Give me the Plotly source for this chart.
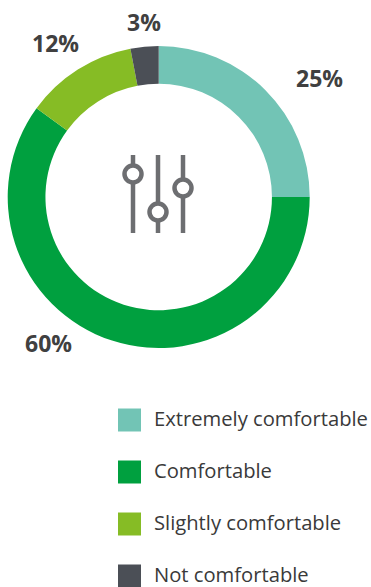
import plotly.graph_objects as go

# Survey shares, clockwise from 12 o'clock
categories = ["Extremely comfortable", "Comfortable", "Slightly comfortable", "Not comfortable"]
values = [25, 60, 12, 3]
colors = ["#72C4B5", "#00A03F", "#86BC25", "#4B4F56"]

W, H = 371, 587

# Outside percentage label anchor points (px from top-left)
label_pos = [(319, 78), (48, 343), (55, 43), (144, 22)]


def px(x, y):
    return x / W, 1 - y / H


cx, cy, r_out = 158.7, 197, 151
x0, y0 = px(cx - r_out, cy + r_out)
x1, y1 = px(cx + r_out, cy - r_out)

fig = go.Figure(
    go.Pie(
        labels=categories,
        values=values,
        marker=dict(colors=colors, line=dict(width=0)),
        hole=0.75,
        sort=False,
        direction="clockwise",
        rotation=0,
        textinfo="none",
        hoverinfo="label+percent",
        showlegend=False,
        domain=dict(x=[x0, x1], y=[y0, y1]),
    )
)

annotations = []
for v, (lx, ly) in zip(values, label_pos):
    ax, ay = px(lx, ly)
    annotations.append(dict(
        x=ax, y=ay, xref="paper", yref="paper", xanchor="center", yanchor="middle",
        text=f"<b>{v}%</b>", showarrow=False,
        font=dict(family="Open Sans", size=23, color="#404040"),
    ))

shapes = []
# Legend swatches and labels
legend_y = [420, 472, 524, 576]
for name, col, ly in zip(categories, colors, legend_y):
    sx0, sy0 = px(118, ly + 11.5)
    sx1, sy1 = px(141, ly - 11.5)
    shapes.append(dict(type="rect", xref="paper", yref="paper", x0=sx0, y0=sy0, x1=sx1, y1=sy1,
                       fillcolor=col, line=dict(width=0)))
    tx, ty = px(153, ly - 2.5)
    annotations.append(dict(
        x=tx, y=ty, xref="paper", yref="paper", xanchor="left", yanchor="middle",
        text=name, showarrow=False, borderpad=0,
        font=dict(family="Open Sans", size=20.2, color="#3A3A3A"),
    ))

# Slider icon in the centre of the ring
icon_col = "#6D6E71"
knobs = [(133, 174), (158, 212), (183, 188)]
for lx, _ in knobs:
    ax0, ay0 = px(lx, 155)
    ax1, ay1 = px(lx, 233)
    shapes.append(dict(type="line", xref="paper", yref="paper", x0=ax0, y0=ay0, x1=ax1, y1=ay1,
                       line=dict(color=icon_col, width=4.5)))
for lx, ky in knobs:
    kr = 8.5
    kx0, ky0 = px(lx - kr, ky + kr)
    kx1, ky1 = px(lx + kr, ky - kr)
    shapes.append(dict(type="circle", xref="paper", yref="paper", x0=kx0, y0=ky0, x1=kx1, y1=ky1,
                       fillcolor="white", line=dict(color=icon_col, width=4.5)))

fig.update_layout(
    width=W, height=H,
    margin=dict(l=0, r=0, t=0, b=0),
    paper_bgcolor="white",
    plot_bgcolor="white",
    annotations=annotations,
    shapes=shapes,
    font=dict(family="Open Sans"),
)

fig.write_html("out.html")
